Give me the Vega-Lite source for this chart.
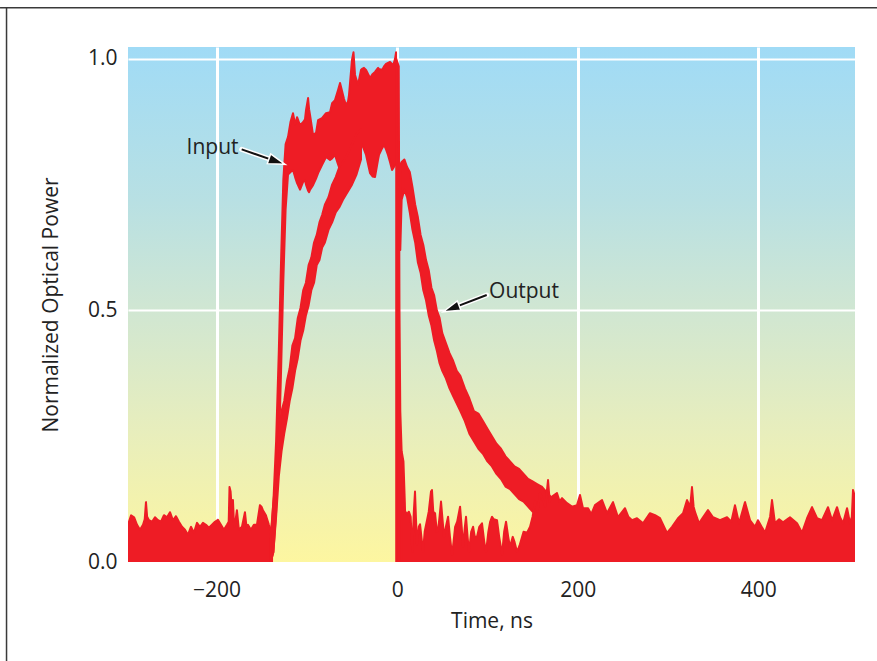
{
  "$schema": "https://vega.github.io/schema/vega-lite/v6.json",
  "width": 727,
  "height": 515,
  "autosize": {"type": "none"},
  "padding": {"left": 128, "top": 47, "right": 22, "bottom": 99},
  "background": "white",
  "config": {
    "font": "Open Sans",
    "view": {
      "stroke": null,
      "fill": {"gradient": "linear", "x1": 0, "y1": 0, "x2": 0, "y2": 1,
        "stops": [
          {"offset": 0, "color": "#a0dbf6"},
          {"offset": 0.3, "color": "#b8e0e3"},
          {"offset": 0.5, "color": "#cfe6d3"},
          {"offset": 0.75, "color": "#e8eebc"},
          {"offset": 1, "color": "#fdf6a0"}
        ]}
    }
  },
  "datasets": {
    "trace": [
      {"s": "fl", "t": -298, "p": 0, "p2": 0.074},
      {"s": "fl", "t": -294.6, "p": 0, "p2": 0.093},
      {"s": "fl", "t": -291.3, "p": 0, "p2": 0.089},
      {"s": "fl", "t": -288, "p": 0, "p2": 0.074},
      {"s": "fl", "t": -284.7, "p": 0, "p2": 0.064},
      {"s": "fl", "t": -281.4, "p": 0, "p2": 0.074},
      {"s": "fl", "t": -279.5, "p": 0, "p2": 0.085},
      {"s": "fl", "t": -278.1, "p": 0, "p2": 0.119},
      {"s": "fl", "t": -276.8, "p": 0, "p2": 0.09},
      {"s": "fl", "t": -274.8, "p": 0, "p2": 0.083},
      {"s": "fl", "t": -271.4, "p": 0, "p2": 0.08},
      {"s": "fl", "t": -268.1, "p": 0, "p2": 0.089},
      {"s": "fl", "t": -264.8, "p": 0, "p2": 0.083},
      {"s": "fl", "t": -261.5, "p": 0, "p2": 0.08},
      {"s": "fl", "t": -258.2, "p": 0, "p2": 0.093},
      {"s": "fl", "t": -254.8, "p": 0, "p2": 0.089},
      {"s": "fl", "t": -251.5, "p": 0, "p2": 0.099},
      {"s": "fl", "t": -248.2, "p": 0, "p2": 0.083},
      {"s": "fl", "t": -244.9, "p": 0, "p2": 0.091},
      {"s": "fl", "t": -241.6, "p": 0, "p2": 0.08},
      {"s": "fl", "t": -238.2, "p": 0, "p2": 0.07},
      {"s": "fl", "t": -234.9, "p": 0, "p2": 0.064},
      {"s": "fl", "t": -231.6, "p": 0, "p2": 0.054},
      {"s": "fl", "t": -228.3, "p": 0, "p2": 0.07},
      {"s": "fl", "t": -225, "p": 0, "p2": 0.058},
      {"s": "fl", "t": -221.6, "p": 0, "p2": 0.078},
      {"s": "fl", "t": -218.3, "p": 0, "p2": 0.07},
      {"s": "fl", "t": -215, "p": 0, "p2": 0.078},
      {"s": "fl", "t": -211.7, "p": 0, "p2": 0.074},
      {"s": "fl", "t": -208.4, "p": 0, "p2": 0.068},
      {"s": "fl", "t": -205, "p": 0, "p2": 0.074},
      {"s": "fl", "t": -201.7, "p": 0, "p2": 0.08},
      {"s": "fl", "t": -198.4, "p": 0, "p2": 0.084},
      {"s": "fl", "t": -195.1, "p": 0, "p2": 0.074},
      {"s": "fl", "t": -191.8, "p": 0, "p2": 0.064},
      {"s": "fl", "t": -188.4, "p": 0, "p2": 0.074},
      {"s": "fl", "t": -186.5, "p": 0, "p2": 0.08},
      {"s": "fl", "t": -185.6, "p": 0, "p2": 0.149},
      {"s": "fl", "t": -184.4, "p": 0, "p2": 0.14},
      {"s": "fl", "t": -183, "p": 0, "p2": 0.1},
      {"s": "fl", "t": -181.8, "p": 0, "p2": 0.123},
      {"s": "fl", "t": -180.5, "p": 0, "p2": 0.07},
      {"s": "fl", "t": -179.6, "p": 0, "p2": 0.074},
      {"s": "fl", "t": -177.4, "p": 0, "p2": 0.103},
      {"s": "fl", "t": -175.2, "p": 0, "p2": 0.064},
      {"s": "fl", "t": -171.8, "p": 0, "p2": 0.07},
      {"s": "fl", "t": -168.5, "p": 0, "p2": 0.099},
      {"s": "fl", "t": -166.8, "p": 0, "p2": 0.07},
      {"s": "fl", "t": -165.2, "p": 0, "p2": 0.074},
      {"s": "fl", "t": -161.9, "p": 0, "p2": 0.064},
      {"s": "fl", "t": -158.6, "p": 0, "p2": 0.074},
      {"s": "fl", "t": -155.2, "p": 0, "p2": 0.074},
      {"s": "fl", "t": -151.9, "p": 0, "p2": 0.113},
      {"s": "fl", "t": -150.2, "p": 0, "p2": 0.11},
      {"s": "fl", "t": -148.6, "p": 0, "p2": 0.103},
      {"s": "fl", "t": -145.3, "p": 0, "p2": 0.093},
      {"s": "fl", "t": -142, "p": 0, "p2": 0.074},
      {"s": "fl", "t": -139.8, "p": 0, "p2": 0.064},
      {"s": "fl", "t": -138.5, "p": 0, "p2": 0.04},

      {"s": "in", "t": -140, "p": 0, "p2": 0.04},
      {"s": "in", "t": -137, "p": 0.02, "p2": 0.12},
      {"s": "in", "t": -134, "p": 0.1, "p2": 0.24},
      {"s": "in", "t": -131, "p": 0.22, "p2": 0.42},
      {"s": "in", "t": -128.5, "p": 0.38, "p2": 0.6},
      {"s": "in", "t": -126, "p": 0.56, "p2": 0.76},
      {"s": "in", "t": -123.5, "p": 0.7, "p2": 0.83},
      {"s": "in", "t": -120.8, "p": 0.77, "p2": 0.845},
      {"s": "in", "t": -118, "p": 0.775, "p2": 0.875},
      {"s": "in", "t": -115.3, "p": 0.779, "p2": 0.892},
      {"s": "in", "t": -113, "p": 0.765, "p2": 0.87},
      {"s": "in", "t": -110.8, "p": 0.753, "p2": 0.884},
      {"s": "in", "t": -107.5, "p": 0.74, "p2": 0.868},
      {"s": "in", "t": -104.2, "p": 0.755, "p2": 0.874},
      {"s": "in", "t": -102, "p": 0.759, "p2": 0.88},
      {"s": "in", "t": -100.9, "p": 0.75, "p2": 0.898},
      {"s": "in", "t": -98.6, "p": 0.738, "p2": 0.922},
      {"s": "in", "t": -97.5, "p": 0.735, "p2": 0.9},
      {"s": "in", "t": -96.4, "p": 0.74, "p2": 0.888},
      {"s": "in", "t": -93.1, "p": 0.749, "p2": 0.849},
      {"s": "in", "t": -89.8, "p": 0.762, "p2": 0.853},
      {"s": "in", "t": -87.5, "p": 0.773, "p2": 0.878},
      {"s": "in", "t": -83.2, "p": 0.789, "p2": 0.882},
      {"s": "in", "t": -78.7, "p": 0.805, "p2": 0.892},
      {"s": "in", "t": -74.3, "p": 0.799, "p2": 0.894},
      {"s": "in", "t": -72, "p": 0.802, "p2": 0.912},
      {"s": "in", "t": -68.8, "p": 0.809, "p2": 0.918},
      {"s": "in", "t": -65.4, "p": 0.79, "p2": 0.938},
      {"s": "in", "t": -63.2, "p": 0.779, "p2": 0.952},
      {"s": "in", "t": -59.9, "p": 0.76, "p2": 0.928},
      {"s": "in", "t": -58.8, "p": 0.75, "p2": 0.92},
      {"s": "in", "t": -56.6, "p": 0.76, "p2": 0.908},
      {"s": "in", "t": -54.4, "p": 0.77, "p2": 0.915},
      {"s": "in", "t": -53.3, "p": 0.78, "p2": 0.928},
      {"s": "in", "t": -50, "p": 0.8, "p2": 0.998},
      {"s": "in", "t": -48.3, "p": 0.81, "p2": 1.013},
      {"s": "in", "t": -46.6, "p": 0.815, "p2": 0.968},
      {"s": "in", "t": -44.4, "p": 0.82, "p2": 0.955},
      {"s": "in", "t": -43.3, "p": 0.822, "p2": 0.948},
      {"s": "in", "t": -40, "p": 0.826, "p2": 0.978},
      {"s": "in", "t": -38.9, "p": 0.829, "p2": 0.98},
      {"s": "in", "t": -36.7, "p": 0.82, "p2": 0.982},
      {"s": "in", "t": -34.4, "p": 0.809, "p2": 0.978},
      {"s": "in", "t": -33.3, "p": 0.8, "p2": 0.974},
      {"s": "in", "t": -30, "p": 0.773, "p2": 0.962},
      {"s": "in", "t": -27, "p": 0.766, "p2": 0.97},
      {"s": "in", "t": -24.5, "p": 0.765, "p2": 0.974},
      {"s": "in", "t": -21.1, "p": 0.8, "p2": 0.982},
      {"s": "in", "t": -20.1, "p": 0.809, "p2": 0.98},
      {"s": "in", "t": -16.7, "p": 0.822, "p2": 0.978},
      {"s": "in", "t": -14.5, "p": 0.829, "p2": 0.985},
      {"s": "in", "t": -12.3, "p": 0.82, "p2": 0.99},
      {"s": "in", "t": -10.1, "p": 0.809, "p2": 0.992},
      {"s": "in", "t": -7.9, "p": 0.795, "p2": 0.994},
      {"s": "in", "t": -5.6, "p": 0.779, "p2": 0.99},
      {"s": "in", "t": -4.5, "p": 0.782, "p2": 0.986},
      {"s": "in", "t": -2.3, "p": 0.789, "p2": 1.0},
      {"s": "in", "t": -1.2, "p": 0.79, "p2": 1.013},

      {"s": "dr", "t": -1, "p": 0, "p2": 1.0},
      {"s": "dr", "t": 1.8, "p": 0, "p2": 0.985},
      {"s": "dr", "t": 2.6, "p": 0, "p2": 0.5},
      {"s": "dr", "t": 3.5, "p": 0, "p2": 0.3},
      {"s": "dr", "t": 5, "p": 0, "p2": 0.22},
      {"s": "dr", "t": 7, "p": 0, "p2": 0.2},
      {"s": "dr", "t": 8.5, "p": 0, "p2": 0.12},
      {"s": "dr", "t": 9.5, "p": 0, "p2": 0.05},

      {"s": "or", "t": -140, "p": 0, "p2": 0.05},
      {"s": "or", "t": -137, "p": 0.02, "p2": 0.12},
      {"s": "or", "t": -134, "p": 0.09, "p2": 0.17},
      {"s": "or", "t": -131, "p": 0.17, "p2": 0.25},
      {"s": "or", "t": -128, "p": 0.22, "p2": 0.3},
      {"s": "or", "t": -125, "p": 0.255, "p2": 0.32},
      {"s": "or", "t": -122, "p": 0.285, "p2": 0.36},
      {"s": "or", "t": -119, "p": 0.32, "p2": 0.385},
      {"s": "or", "t": -116, "p": 0.345, "p2": 0.43},
      {"s": "or", "t": -113, "p": 0.38, "p2": 0.445},
      {"s": "or", "t": -110, "p": 0.405, "p2": 0.485},
      {"s": "or", "t": -107, "p": 0.44, "p2": 0.505},
      {"s": "or", "t": -104, "p": 0.46, "p2": 0.54},
      {"s": "or", "t": -101, "p": 0.49, "p2": 0.555},
      {"s": "or", "t": -98, "p": 0.51, "p2": 0.59},
      {"s": "or", "t": -95, "p": 0.54, "p2": 0.605},
      {"s": "or", "t": -92, "p": 0.555, "p2": 0.635},
      {"s": "or", "t": -89, "p": 0.59, "p2": 0.65},
      {"s": "or", "t": -86, "p": 0.6, "p2": 0.675},
      {"s": "or", "t": -83, "p": 0.625, "p2": 0.69},
      {"s": "or", "t": -80, "p": 0.635, "p2": 0.71},
      {"s": "or", "t": -76, "p": 0.66, "p2": 0.725},
      {"s": "or", "t": -72, "p": 0.675, "p2": 0.75},
      {"s": "or", "t": -68, "p": 0.695, "p2": 0.765},
      {"s": "or", "t": -64, "p": 0.705, "p2": 0.785},
      {"s": "or", "t": -60, "p": 0.72, "p2": 0.795},
      {"s": "or", "t": -55, "p": 0.735, "p2": 0.81},
      {"s": "or", "t": -50, "p": 0.75, "p2": 0.83},
      {"s": "or", "t": -45, "p": 0.77, "p2": 0.85},
      {"s": "or", "t": -40, "p": 0.8, "p2": 0.86},

      {"s": "od", "t": 3.5, "p": 0.62, "p2": 0.79},
      {"s": "od", "t": 5, "p": 0.72, "p2": 0.795},
      {"s": "od", "t": 8, "p": 0.74, "p2": 0.8},
      {"s": "od", "t": 11, "p": 0.725, "p2": 0.785},
      {"s": "od", "t": 14, "p": 0.695, "p2": 0.775},
      {"s": "od", "t": 17, "p": 0.66, "p2": 0.745},
      {"s": "od", "t": 20, "p": 0.635, "p2": 0.71},
      {"s": "od", "t": 23, "p": 0.595, "p2": 0.685},
      {"s": "od", "t": 26, "p": 0.575, "p2": 0.65},
      {"s": "od", "t": 29, "p": 0.54, "p2": 0.63},
      {"s": "od", "t": 32, "p": 0.52, "p2": 0.6},
      {"s": "od", "t": 35, "p": 0.49, "p2": 0.58},
      {"s": "od", "t": 38, "p": 0.47, "p2": 0.545},
      {"s": "od", "t": 41, "p": 0.44, "p2": 0.53},
      {"s": "od", "t": 44, "p": 0.42, "p2": 0.5},
      {"s": "od", "t": 47, "p": 0.395, "p2": 0.485},
      {"s": "od", "t": 50, "p": 0.38, "p2": 0.455},
      {"s": "od", "t": 54, "p": 0.365, "p2": 0.435},
      {"s": "od", "t": 58, "p": 0.345, "p2": 0.415},
      {"s": "od", "t": 62, "p": 0.33, "p2": 0.4},
      {"s": "od", "t": 66, "p": 0.315, "p2": 0.38},
      {"s": "od", "t": 70, "p": 0.3, "p2": 0.37},
      {"s": "od", "t": 75, "p": 0.28, "p2": 0.345},
      {"s": "od", "t": 80, "p": 0.255, "p2": 0.325},
      {"s": "od", "t": 85, "p": 0.24, "p2": 0.3},
      {"s": "od", "t": 90, "p": 0.225, "p2": 0.295},
      {"s": "od", "t": 95, "p": 0.215, "p2": 0.28},
      {"s": "od", "t": 100, "p": 0.2, "p2": 0.265},
      {"s": "od", "t": 105, "p": 0.19, "p2": 0.25},
      {"s": "od", "t": 110, "p": 0.175, "p2": 0.235},
      {"s": "od", "t": 115, "p": 0.165, "p2": 0.225},
      {"s": "od", "t": 120, "p": 0.15, "p2": 0.21},
      {"s": "od", "t": 125, "p": 0.145, "p2": 0.2},
      {"s": "od", "t": 130, "p": 0.135, "p2": 0.19},
      {"s": "od", "t": 135, "p": 0.125, "p2": 0.185},
      {"s": "od", "t": 140, "p": 0.12, "p2": 0.175},
      {"s": "od", "t": 145, "p": 0.11, "p2": 0.165},
      {"s": "od", "t": 150, "p": 0.1, "p2": 0.16},
      {"s": "od", "t": 155, "p": 0.095, "p2": 0.155},
      {"s": "od", "t": 160, "p": 0.09, "p2": 0.15},
      {"s": "od", "t": 165, "p": 0.09, "p2": 0.14},
      {"s": "od", "t": 170, "p": 0.09, "p2": 0.13},

      {"s": "fr", "t": 5, "p": 0, "p2": 0.09},
      {"s": "fr", "t": 7, "p": 0, "p2": 0.1},
      {"s": "fr", "t": 9, "p": 0, "p2": 0.1},
      {"s": "fr", "t": 11, "p": 0, "p2": 0.095},
      {"s": "fr", "t": 13, "p": 0, "p2": 0.1},
      {"s": "fr", "t": 15, "p": 0, "p2": 0.09},
      {"s": "fr", "t": 16.8, "p": 0, "p2": 0.02},
      {"s": "fr", "t": 18.5, "p": 0, "p2": 0.1},
      {"s": "fr", "t": 19.8, "p": 0, "p2": 0.14},
      {"s": "fr", "t": 21, "p": 0, "p2": 0.08},
      {"s": "fr", "t": 22, "p": 0, "p2": 0.035},
      {"s": "fr", "t": 24, "p": 0, "p2": 0.07},
      {"s": "fr", "t": 25.4, "p": 0, "p2": 0.075},
      {"s": "fr", "t": 27.5, "p": 0, "p2": 0.04},
      {"s": "fr", "t": 28.7, "p": 0, "p2": 0.02},
      {"s": "fr", "t": 30.5, "p": 0, "p2": 0.06},
      {"s": "fr", "t": 33.1, "p": 0, "p2": 0.083},
      {"s": "fr", "t": 35, "p": 0, "p2": 0.1},
      {"s": "fr", "t": 37.5, "p": 0, "p2": 0.14},
      {"s": "fr", "t": 38.6, "p": 0, "p2": 0.143},
      {"s": "fr", "t": 40, "p": 0, "p2": 0.1},
      {"s": "fr", "t": 42, "p": 0, "p2": 0.097},
      {"s": "fr", "t": 44, "p": 0, "p2": 0.06},
      {"s": "fr", "t": 45.3, "p": 0, "p2": 0.063},
      {"s": "fr", "t": 47, "p": 0, "p2": 0.09},
      {"s": "fr", "t": 48.6, "p": 0, "p2": 0.12},
      {"s": "fr", "t": 50.5, "p": 0, "p2": 0.08},
      {"s": "fr", "t": 51.9, "p": 0, "p2": 0.05},
      {"s": "fr", "t": 54, "p": 0, "p2": 0.07},
      {"s": "fr", "t": 56.4, "p": 0, "p2": 0.09},
      {"s": "fr", "t": 58.5, "p": 0, "p2": 0.05},
      {"s": "fr", "t": 60.8, "p": 0, "p2": 0.014},
      {"s": "fr", "t": 62.5, "p": 0, "p2": 0.04},
      {"s": "fr", "t": 64.2, "p": 0, "p2": 0.07},
      {"s": "fr", "t": 66.5, "p": 0, "p2": 0.08},
      {"s": "fr", "t": 69.7, "p": 0, "p2": 0.11},
      {"s": "fr", "t": 71.5, "p": 0, "p2": 0.07},
      {"s": "fr", "t": 73, "p": 0, "p2": 0.03},
      {"s": "fr", "t": 75, "p": 0, "p2": 0.07},
      {"s": "fr", "t": 76.3, "p": 0, "p2": 0.09},
      {"s": "fr", "t": 78, "p": 0, "p2": 0.05},
      {"s": "fr", "t": 79.6, "p": 0, "p2": 0.02},
      {"s": "fr", "t": 82, "p": 0, "p2": 0.06},
      {"s": "fr", "t": 84.1, "p": 0, "p2": 0.07},
      {"s": "fr", "t": 86, "p": 0, "p2": 0.05},
      {"s": "fr", "t": 88.5, "p": 0, "p2": 0.05},
      {"s": "fr", "t": 91, "p": 0, "p2": 0.07},
      {"s": "fr", "t": 94, "p": 0, "p2": 0.077},
      {"s": "fr", "t": 96.5, "p": 0, "p2": 0.04},
      {"s": "fr", "t": 98.5, "p": 0, "p2": 0.02},
      {"s": "fr", "t": 101, "p": 0, "p2": 0.06},
      {"s": "fr", "t": 103, "p": 0, "p2": 0.08},
      {"s": "fr", "t": 105.1, "p": 0, "p2": 0.09},
      {"s": "fr", "t": 107, "p": 0, "p2": 0.085},
      {"s": "fr", "t": 110.6, "p": 0, "p2": 0.083},
      {"s": "fr", "t": 113, "p": 0, "p2": 0.05},
      {"s": "fr", "t": 116.2, "p": 0, "p2": 0.015},
      {"s": "fr", "t": 118.5, "p": 0, "p2": 0.06},
      {"s": "fr", "t": 120.6, "p": 0, "p2": 0.08},
      {"s": "fr", "t": 123, "p": 0, "p2": 0.05},
      {"s": "fr", "t": 125, "p": 0, "p2": 0.03},
      {"s": "fr", "t": 128, "p": 0, "p2": 0.05},
      {"s": "fr", "t": 130, "p": 0, "p2": 0.04},
      {"s": "fr", "t": 132.8, "p": 0, "p2": 0.02},
      {"s": "fr", "t": 136, "p": 0, "p2": 0.035},
      {"s": "fr", "t": 140, "p": 0, "p2": 0.06},
      {"s": "fr", "t": 143.9, "p": 0, "p2": 0.058},
      {"s": "fr", "t": 147.2, "p": 0, "p2": 0.07},
      {"s": "fr", "t": 150, "p": 0, "p2": 0.09},
      {"s": "fr", "t": 152.8, "p": 0, "p2": 0.12},
      {"s": "fr", "t": 155.5, "p": 0, "p2": 0.1},
      {"s": "fr", "t": 158.2, "p": 0, "p2": 0.137},
      {"s": "fr", "t": 161.5, "p": 0, "p2": 0.123},
      {"s": "fr", "t": 164, "p": 0, "p2": 0.11},
      {"s": "fr", "t": 167.1, "p": 0, "p2": 0.163},
      {"s": "fr", "t": 169, "p": 0, "p2": 0.12},
      {"s": "fr", "t": 171.5, "p": 0, "p2": 0.13},
      {"s": "fr", "t": 177, "p": 0, "p2": 0.137},
      {"s": "fr", "t": 180, "p": 0, "p2": 0.12},
      {"s": "fr", "t": 182.6, "p": 0, "p2": 0.127},
      {"s": "fr", "t": 188.1, "p": 0, "p2": 0.117},
      {"s": "fr", "t": 193.6, "p": 0, "p2": 0.11},
      {"s": "fr", "t": 199.2, "p": 0, "p2": 0.113},
      {"s": "fr", "t": 202.5, "p": 0, "p2": 0.133},
      {"s": "fr", "t": 205.8, "p": 0, "p2": 0.107},
      {"s": "fr", "t": 211.4, "p": 0, "p2": 0.107},
      {"s": "fr", "t": 215, "p": 0, "p2": 0.095},
      {"s": "fr", "t": 219.1, "p": 0, "p2": 0.113},
      {"s": "fr", "t": 226.9, "p": 0, "p2": 0.123},
      {"s": "fr", "t": 232.4, "p": 0, "p2": 0.097},
      {"s": "fr", "t": 239, "p": 0, "p2": 0.119},
      {"s": "fr", "t": 244.6, "p": 0, "p2": 0.089},
      {"s": "fr", "t": 252.3, "p": 0, "p2": 0.107},
      {"s": "fr", "t": 256, "p": 0, "p2": 0.09},
      {"s": "fr", "t": 260.1, "p": 0, "p2": 0.083},
      {"s": "fr", "t": 265.6, "p": 0, "p2": 0.087},
      {"s": "fr", "t": 272.3, "p": 0, "p2": 0.077},
      {"s": "fr", "t": 280, "p": 0, "p2": 0.097},
      {"s": "fr", "t": 285.6, "p": 0, "p2": 0.093},
      {"s": "fr", "t": 291.1, "p": 0, "p2": 0.087},
      {"s": "fr", "t": 298.8, "p": 0, "p2": 0.058},
      {"s": "fr", "t": 304.4, "p": 0, "p2": 0.07},
      {"s": "fr", "t": 311, "p": 0, "p2": 0.087},
      {"s": "fr", "t": 316.6, "p": 0, "p2": 0.097},
      {"s": "fr", "t": 321, "p": 0, "p2": 0.123},
      {"s": "fr", "t": 324.5, "p": 0, "p2": 0.11},
      {"s": "fr", "t": 326.5, "p": 0, "p2": 0.149},
      {"s": "fr", "t": 328.3, "p": 0, "p2": 0.11},
      {"s": "fr", "t": 329.9, "p": 0, "p2": 0.099},
      {"s": "fr", "t": 334.3, "p": 0, "p2": 0.077},
      {"s": "fr", "t": 338.7, "p": 0, "p2": 0.089},
      {"s": "fr", "t": 344.2, "p": 0, "p2": 0.103},
      {"s": "fr", "t": 349.8, "p": 0, "p2": 0.089},
      {"s": "fr", "t": 357.5, "p": 0, "p2": 0.083},
      {"s": "fr", "t": 365.3, "p": 0, "p2": 0.089},
      {"s": "fr", "t": 370, "p": 0, "p2": 0.08},
      {"s": "fr", "t": 374.1, "p": 0, "p2": 0.113},
      {"s": "fr", "t": 378.6, "p": 0, "p2": 0.077},
      {"s": "fr", "t": 385.2, "p": 0, "p2": 0.119},
      {"s": "fr", "t": 390.8, "p": 0, "p2": 0.083},
      {"s": "fr", "t": 396.3, "p": 0, "p2": 0.07},
      {"s": "fr", "t": 399.6, "p": 0, "p2": 0.083},
      {"s": "fr", "t": 407.4, "p": 0, "p2": 0.058},
      {"s": "fr", "t": 413, "p": 0, "p2": 0.09},
      {"s": "fr", "t": 415.1, "p": 0, "p2": 0.123},
      {"s": "fr", "t": 418.4, "p": 0, "p2": 0.077},
      {"s": "fr", "t": 423, "p": 0, "p2": 0.085},
      {"s": "fr", "t": 427.3, "p": 0, "p2": 0.079},
      {"s": "fr", "t": 435, "p": 0, "p2": 0.089},
      {"s": "fr", "t": 442.8, "p": 0, "p2": 0.077},
      {"s": "fr", "t": 448.3, "p": 0, "p2": 0.058},
      {"s": "fr", "t": 453.9, "p": 0, "p2": 0.087},
      {"s": "fr", "t": 459.4, "p": 0, "p2": 0.109},
      {"s": "fr", "t": 465, "p": 0, "p2": 0.087},
      {"s": "fr", "t": 470.5, "p": 0, "p2": 0.083},
      {"s": "fr", "t": 477.1, "p": 0, "p2": 0.109},
      {"s": "fr", "t": 481.6, "p": 0, "p2": 0.083},
      {"s": "fr", "t": 487.1, "p": 0, "p2": 0.109},
      {"s": "fr", "t": 490.4, "p": 0, "p2": 0.089},
      {"s": "fr", "t": 493.8, "p": 0, "p2": 0.077},
      {"s": "fr", "t": 498.2, "p": 0, "p2": 0.107},
      {"s": "fr", "t": 501.5, "p": 0, "p2": 0.077},
      {"s": "fr", "t": 503.5, "p": 0, "p2": 0.09},
      {"s": "fr", "t": 504.8, "p": 0, "p2": 0.143},
      {"s": "fr", "t": 507, "p": 0, "p2": 0.13}
    ],
    "notes": [
      {"t": -204.4, "p": 0.8108, "label": "Input"},
      {"t": 140.5, "p": 0.5246, "label": "Output"}
    ],
    "shafts": [
      {"t": -172.1, "p": 0.82, "t2": -133.0, "p2": 0.7958},
      {"t": 99.2, "p": 0.5306, "t2": 59.9, "p2": 0.5035}
    ],
    "heads": [
      {"t": -133.0, "p": 0.7958, "a": 19},
      {"t": 59.9, "p": 0.5035, "a": 159}
    ],
    "frame": [
      {"t": -439.7, "t2": 531.4, "p": 1.1013, "p2": 1.1013},
      {"t": -432.5, "t2": -432.5, "p": 1.1013, "p2": -0.1967}
    ]
  },
  "encoding": {
    "x": {
      "field": "t", "type": "quantitative",
      "scale": {"domain": [-298, 507], "nice": false, "zero": false},
      "title": "Time, ns",
      "axis": {
        "values": [-200, 0, 200, 400],
        "domain": false, "ticks": false,
        "labelFont": "Open Sans", "labelFontSize": 21, "labelColor": "#222222",
        "labelBaseline": "alphabetic", "labelPadding": 34, "labelFlush": false,
        "titleFont": "Open Sans", "titleFontSize": 21, "titleFontWeight": "normal", "titleColor": "#222222",
        "titleY": 65, "titleBaseline": "alphabetic",
        "grid": true, "gridColor": "#ffffff", "gridWidth": 3, "gridOpacity": 1
      }
    },
    "y": {
      "field": "p", "type": "quantitative",
      "scale": {"domain": [0, 1.0235], "nice": false, "zero": false},
      "title": "Normalized Optical Power",
      "axis": {
        "values": [0, 0.5, 1],
        "format": ".1f",
        "domain": false, "ticks": false,
        "labelFont": "Open Sans", "labelFontSize": 21, "labelColor": "#222222",
        "labelPadding": 11,
        "titleFont": "Open Sans", "titleFontSize": 21, "titleFontWeight": "normal", "titleColor": "#222222",
        "titleX": -70.5, "titleY": 257.5, "titleAngle": 270, "titleAlign": "center", "titleBaseline": "alphabetic",
        "grid": true, "gridColor": "#ffffff", "gridWidth": 2,
        "gridOpacity": {"condition": {"test": "datum.value == 0", "value": 0}, "value": 1}
      }
    }
  },
  "layer": [
    {
      "data": {"name": "trace"},
      "mark": {"type": "area", "orient": "vertical", "color": "#ee1c25", "fill": "#ee1c25", "stroke": "#ee1c25", "strokeWidth": 2, "strokeJoin": "round", "clip": true, "opacity": 1},
      "encoding": {
        "y2": {"field": "p2"},
        "detail": {"field": "s", "type": "nominal"}
      }
    },
    {
      "data": {"name": "frame"},
      "mark": {"type": "rule", "color": "#3a3a3a", "strokeWidth": 1.5},
      "encoding": {
        "x2": {"field": "t2"},
        "y2": {"field": "p2"}
      }
    },
    {
      "data": {"name": "shafts"},
      "mark": {"type": "rule", "color": "#ffffff", "strokeWidth": 5, "strokeCap": "round"},
      "encoding": {
        "x2": {"field": "t2"},
        "y2": {"field": "p2"}
      }
    },
    {
      "data": {"name": "shafts"},
      "mark": {"type": "rule", "color": "#111111", "strokeWidth": 2},
      "encoding": {
        "x2": {"field": "t2"},
        "y2": {"field": "p2"}
      }
    },
    {
      "data": {"name": "heads"},
      "mark": {"type": "point", "shape": "M-1,-0.6L1,0L-1,0.6Z", "filled": true, "fill": "#111111", "stroke": "#ffffff", "strokeWidth": 1.5, "size": 289, "opacity": 1},
      "encoding": {
        "angle": {"field": "a", "type": "quantitative", "scale": null}
      }
    },
    {
      "data": {"name": "notes"},
      "mark": {"type": "text", "font": "Open Sans", "fontSize": 21, "color": "#222222", "align": "center", "baseline": "alphabetic"},
      "encoding": {
        "text": {"field": "label", "type": "nominal"}
      }
    }
  ]
}
